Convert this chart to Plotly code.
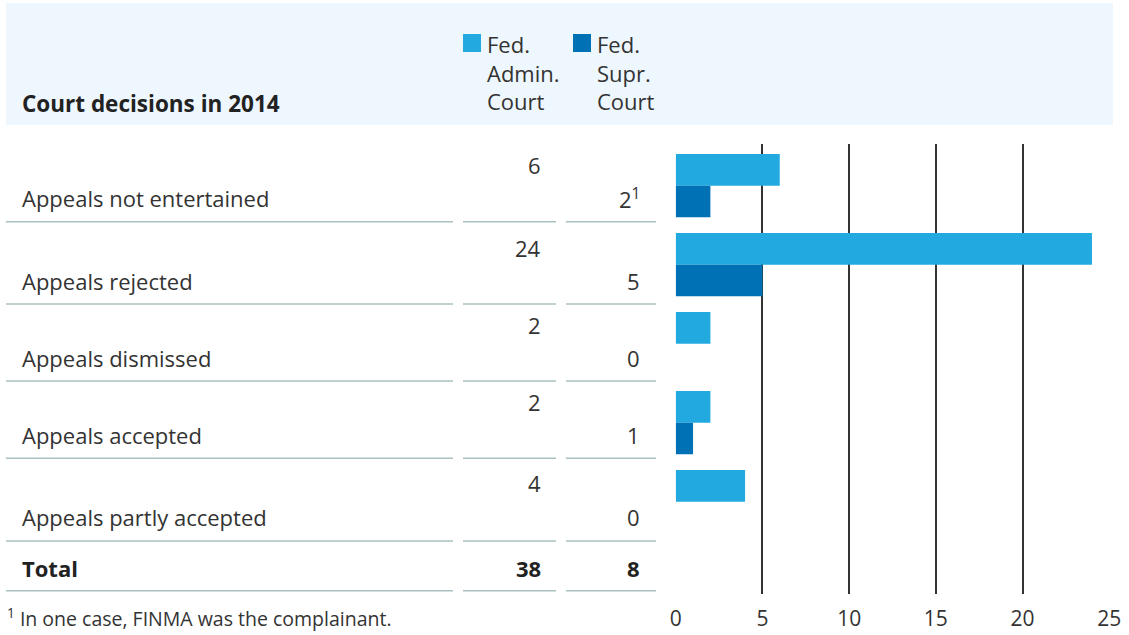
import plotly.graph_objects as go

W, H = 1129, 635

# ---- data ----
categories = ["Appeals not entertained", "Appeals rejected", "Appeals dismissed",
              "Appeals accepted", "Appeals partly accepted"]
admin_court = [6, 24, 2, 2, 4]
supreme_court = [2, 5, 0, 1, 0]
supreme_notes = ["1", "", "", "", ""]
series_names = ["Fed.<br>Admin.<br>Court", "Fed.<br>Supr.<br>Court"]
x_ticks = [0, 5, 10, 15, 20, 25]
title_text = "Court decisions in 2014"
total_label = "Total"
footnote_text = "<sup>1</sup> In one case, FINMA was the complainant."

# ---- style ----
C_ADMIN = "#22a9e0"
C_SUPR = "#0071b4"
C_HEAD = "#eef7fd"
C_RULE = "#a9c1c1"
C_TEXT = "#333333"
FONT = "Open Sans"
FS = 22

def px(x):
    return x / W

def py(y):
    return 1 - y / H

# table layout (pixel positions)
row_label_y = [198, 281, 358, 435, 517]
row_admin_y = [165, 248, 325, 402, 483]
total_y = 568
rule_y = [221.7, 304, 381, 458.3, 541, 590.7]
col_segments = [(6, 453), (463, 556), (566, 656)]
label_left = 20
admin_right = 543
supr_right = 642

fig = go.Figure()
fig.add_trace(go.Bar(y=categories, x=admin_court, orientation="h",
                     marker=dict(color=C_ADMIN, line=dict(width=0)),
                     name="Fed. Admin. Court", showlegend=False))
fig.add_trace(go.Bar(y=categories, x=supreme_court, orientation="h",
                     marker=dict(color=C_SUPR, line=dict(width=0)),
                     name="Fed. Supr. Court", showlegend=False))

shapes = []
shapes.append(dict(type="rect", xref="paper", yref="paper",
                   x0=px(6), x1=px(1113), y0=py(125), y1=py(3),
                   fillcolor=C_HEAD, line=dict(width=0), layer="below"))
for x0, c in [(463, C_ADMIN), (573, C_SUPR)]:
    shapes.append(dict(type="rect", xref="paper", yref="paper",
                       x0=px(x0), x1=px(x0 + 18), y0=py(52), y1=py(34),
                       fillcolor=c, line=dict(width=0)))
for ry in rule_y:
    for a, b in col_segments:
        shapes.append(dict(type="line", xref="paper", yref="paper",
                           x0=px(a), x1=px(b), y0=py(ry), y1=py(ry),
                           line=dict(color=C_RULE, width=1.5)))

ann = []

def add_text(text, x, y, xanchor="left", yanchor="middle", size=FS, color=C_TEXT):
    ann.append(dict(text=text, x=px(x), y=py(y), xref="paper", yref="paper",
                    xanchor=xanchor, yanchor=yanchor, align="left", showarrow=False,
                    font=dict(family=FONT, size=size, color=color)))

add_text("<b>" + title_text + "</b>", label_left, 103, size=22.5, color="#222222")
add_text(series_names[0], 485, 26.5, yanchor="top")
add_text(series_names[1], 595, 26.5, yanchor="top")
for i, cat in enumerate(categories):
    add_text(cat, label_left, row_label_y[i])
    add_text(str(admin_court[i]), admin_right, row_admin_y[i], xanchor="right")
    t = str(supreme_court[i])
    if supreme_notes[i]:
        t += "<sup>" + supreme_notes[i] + "</sup>"
    add_text(t, supr_right, row_label_y[i], xanchor="right")
add_text("<b>" + total_label + "</b>", label_left, total_y, color="#222222")
add_text("<b>" + str(sum(admin_court)) + "</b>", admin_right, total_y, xanchor="right", color="#222222")
add_text("<b>" + str(sum(supreme_court)) + "</b>", supr_right, total_y, xanchor="right", color="#222222")
add_text(footnote_text, 5, 634, yanchor="bottom", size=19.5)

fig.update_layout(
    autosize=True,
    margin=dict(l=0, r=0, t=0, b=0, pad=0, autoexpand=False),
    paper_bgcolor="white", plot_bgcolor="white",
    barmode="group", bargap=0.2, bargroupgap=0,
    shapes=shapes, annotations=ann,
    xaxis=dict(domain=[px(675.7), px(1109.3)], range=[0, 25], tickvals=x_ticks,
               showgrid=True, gridcolor="#333333", gridwidth=1.5, zeroline=False,
               showline=False, ticks="", ticklabelstandoff=10,
               tickfont=dict(family=FONT, size=21, color=C_TEXT),
               fixedrange=True),
    yaxis=dict(domain=[py(594), py(144)], type="category",
               categoryorder="array", categoryarray=categories,
               range=[5.168, -0.528], showticklabels=False, showgrid=False,
               zeroline=False, showline=False, ticks="", fixedrange=True),
    font=dict(family=FONT),
)

post = (
    "document.documentElement.style.margin='0';"
    "document.documentElement.style.overflow='hidden';"
    "document.body.style.margin='0';document.body.style.overflow='hidden';"
    "var gd=document.getElementById('{plot_id}');"
    "gd.style.width='100vw';gd.style.height='100vh';"
    "Plotly.Plots.resize(gd);"
)
fig.write_html("out.html", default_width="100vw", default_height="100vh",
               config={"displayModeBar": False, "responsive": True},
               post_script=post)
